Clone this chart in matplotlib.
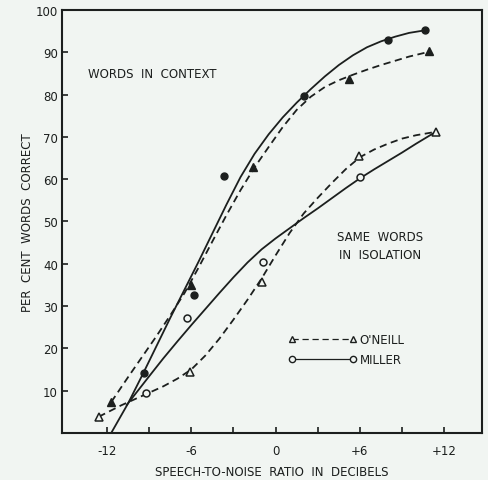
import matplotlib
matplotlib.use("Agg")
import matplotlib.pyplot as plt
from matplotlib.lines import Line2D
import numpy as np

miller_ctx_x = [-9.4, -5.8, -3.7, 2.0, 8.0, 10.6]
miller_ctx_y = [14.2, 32.6, 60.8, 79.7, 93.0, 95.3]
oneill_ctx_x = [-11.7, -6.0, -1.6, 5.2, 10.9]
oneill_ctx_y = [7.3, 35.0, 62.9, 83.7, 90.3]
oneill_iso_x = [-12.6, -6.1, -1.0, 5.9, 11.4]
oneill_iso_y = [3.8, 14.4, 35.7, 65.5, 71.2]
miller_iso_x = [-9.2, -6.3, -0.9, 6.0]
miller_iso_y = [9.5, 27.2, 40.4, 60.5]

# Hand-drawn fitted curves
miller_ctx_cx = [-11.7, -10.5, -9.5, -8.5, -7.5, -6.5, -5.5, -4.5, -3.5, -2.5, -1.5,
                 -0.5, 0.5, 1.5, 2.5, 3.5, 4.5, 5.5, 6.5, 7.5, 8.5, 9.5, 10.8]
miller_ctx_cy = [0, 7, 13.6, 20.4, 27.2, 33.8, 40.4, 47.2, 54, 60.5, 66,
                 70.6, 74.6, 78.1, 81.3, 84.3, 87, 89.3, 91.2, 92.6, 93.7, 94.6, 95.3]
oneill_ctx_cx = [-11.7, -10.5, -9.5, -8.5, -7.5, -6.5, -5.5, -4.5, -3.5, -2.5, -1.5,
                 -0.5, 0.5, 1.5, 2.5, 3.5, 4.5, 5.5, 6.5, 7.5, 8.5, 9.5, 11.0]
oneill_ctx_cy = [7.3, 13.2, 18, 22.8, 27.8, 33, 39, 45.3, 51.5, 57.4, 62.8,
                 67.6, 72.3, 76.4, 79.5, 81.8, 83.4, 84.7, 85.9, 87, 88, 89, 90.2]
oneill_iso_cx = [-12.6, -11, -10, -9, -8, -7, -6, -5, -4, -3, -2, -1, 0,
                 1, 2, 3, 4, 5, 6, 7, 8, 9, 10, 11.4]
oneill_iso_cy = [3.8, 6.5, 8, 9.5, 11, 12.8, 15, 18.3, 22.3, 26.8, 31.5, 36.5, 42,
                 47.3, 51.9, 55.6, 59.1, 62.4, 65.2, 67, 68.4, 69.6, 70.4, 71.2]
miller_iso_cx = [-10.6, -9, -8, -7, -6, -5, -4, -3, -2, -1, 0,
                 1, 2, 3, 4, 5, 6, 7, 8, 9, 10, 11.4]
miller_iso_cy = [6.6, 13.4, 17.6, 21.6, 25.5, 29.3, 33.1, 36.8, 40.3, 43.4, 46,
                 48.4, 50.8, 53.1, 55.5, 57.9, 60.2, 62.3, 64.3, 66.3, 68.4, 71.2]

x_ticks = [-12, -9, -6, -3, 0, 3, 6, 9, 12]
x_labels = ['-12', '', '-6', '', '0', '', '+6', '', '+12']
y_ticks = [10, 20, 30, 40, 50, 60, 70, 80, 90, 100]

ink = '#1c1f1e'
paper = '#f1f5f2'
plt.rcParams['font.family'] = ['DejaVu Sans']

fig = plt.figure(figsize=(4.89, 4.81), dpi=100, facecolor=paper)
ax = fig.add_axes([0.127, 0.098, 0.859, 0.879], facecolor=paper)

lw = 1.3
dash = (4, 2.5)
ax.plot(miller_ctx_cx, miller_ctx_cy, color=ink, lw=lw)
ax.plot(miller_iso_cx, miller_iso_cy, color=ink, lw=lw)
ax.plot(oneill_ctx_cx, oneill_ctx_cy, color=ink, lw=lw, dashes=dash)
ax.plot(oneill_iso_cx, oneill_iso_cy, color=ink, lw=lw, dashes=dash)

ax.plot(miller_ctx_x, miller_ctx_y, 'o', color=ink, ms=5)
ax.plot(oneill_ctx_x, oneill_ctx_y, '^', color=ink, ms=5.5)
ax.plot(oneill_iso_x, oneill_iso_y, '^', mfc=paper, mec=ink, mew=1.1, ms=5.5)
ax.plot(miller_iso_x, miller_iso_y, 'o', mfc=paper, mec=ink, mew=1.1, ms=5)

ax.set_xlim(-15.2, 14.7)
ax.set_ylim(0, 100)
ax.set_xticks(x_ticks)
ax.set_xticklabels(x_labels)
ax.set_yticks(y_ticks)
ax.tick_params(direction='in', length=4, width=1.2, colors=ink, labelsize=8.5, pad=3)
ax.tick_params(axis='x', pad=8)
for s in ax.spines.values():
    s.set_linewidth(1.5)
    s.set_color(ink)

ax.set_xlabel('SPEECH-TO-NOISE  RATIO  IN  DECIBELS', fontsize=8.5, color=ink, labelpad=6)
ax.set_ylabel('PER  CENT  WORDS  CORRECT', fontsize=8.5, color=ink, labelpad=1)

ax.text(-8.8, 85, 'WORDS  IN  CONTEXT', fontsize=8.5, color=ink, ha='center', va='center')
ax.text(7.4, 46.5, 'SAME  WORDS', fontsize=8.5, color=ink, ha='center', va='center')
ax.text(7.4, 42.2, 'IN  ISOLATION', fontsize=8.5, color=ink, ha='center', va='center')

handles = [
    Line2D([], [], color=ink, lw=0.9, dashes=(5, 3), marker='^', mfc=paper, mec=ink, ms=4.5),
    Line2D([], [], color=ink, lw=0.9, marker='o', mfc=paper, mec=ink, ms=4.5),
]
ax.legend(handles, ["O'NEILL", 'MILLER'], loc='upper left', bbox_to_anchor=(0.538, 0.237),
          numpoints=2, frameon=False, handlelength=5.8, handletextpad=0.25,
          labelspacing=0.6, fontsize=8.5, borderpad=0, borderaxespad=0,
          labelcolor=ink)

fig.savefig('out.png', dpi=100, facecolor=paper)
